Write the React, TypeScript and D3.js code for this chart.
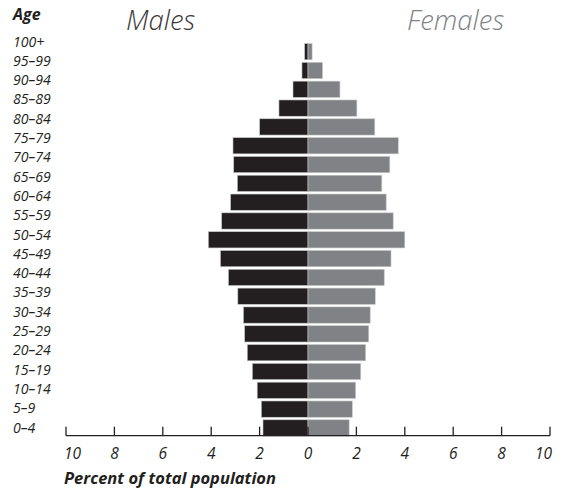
import { useEffect, useRef } from "react";
import * as d3 from "d3";

// age groups, top to bottom
const ageGroups = [
  "100+", "95–99", "90–94", "85–89", "80–84", "75–79", "70–74", "65–69",
  "60–64", "55–59", "50–54", "45–49", "40–44", "35–39", "30–34", "25–29",
  "20–24", "15–19", "10–14", "5–9", "0–4",
];

// percent of total population, same order as ageGroups
const males = [
  0.14, 0.25, 0.62, 1.2, 2.0, 3.1, 3.07, 2.92, 3.2, 3.57, 4.12, 3.62, 3.29,
  2.9, 2.67, 2.62, 2.51, 2.3, 2.1, 1.93, 1.86,
];
const females = [
  0.17, 0.6, 1.32, 2.02, 2.76, 3.73, 3.38, 3.05, 3.23, 3.52, 4.0, 3.43, 3.15,
  2.78, 2.57, 2.51, 2.38, 2.18, 1.97, 1.83, 1.7,
];

const tickValues = [-10, -8, -6, -4, -2, 0, 2, 4, 6, 8, 10];

const width = 561, height = 492;
const maleColor = "#231f20";
const femaleColor = "#808285";
const labelFont = "'Open Sans', 'DejaVu Sans', sans-serif";

function Pyramid() {
  const ref = useRef<SVGSVGElement>(null);

  useEffect(() => {
    const svg = d3.select(ref.current);
    svg.selectAll("*").remove();

    const x = d3.scaleLinear().domain([-10, 10]).range([66, 550]);
    const y = d3.scaleBand().domain(ageGroups).range([42.4, 437.2]).paddingInner(0.135).paddingOuter(0.06);
    // the row labels sit on their own slightly wider spacing
    const yLabel = d3.scalePoint().domain(ageGroups).range([41.5, 427.6]);
    const axisY = 435.7;

    // male bars
    svg.append("g")
      .selectAll("rect")
      .data(ageGroups)
      .join("rect")
      .attr("x", (d, i) => x(-males[i]))
      .attr("y", d => y(d))
      .attr("width", (d, i) => x(0) - x(-males[i]))
      .attr("height", y.bandwidth())
      .attr("fill", maleColor)
      .attr("stroke", "#c8c9cb")
      .attr("stroke-width", 0.6);

    // female bars
    svg.append("g")
      .selectAll("rect")
      .data(ageGroups)
      .join("rect")
      .attr("x", x(0))
      .attr("y", d => y(d))
      .attr("width", (d, i) => x(females[i]) - x(0))
      .attr("height", y.bandwidth())
      .attr("fill", femaleColor)
      .attr("stroke", "#c8c9cb")
      .attr("stroke-width", 0.6);

    // age labels
    svg.append("g")
      .attr("font-family", labelFont)
      .attr("font-style", "italic")
      .attr("font-size", 14.1)
      .attr("fill", maleColor)
      .selectAll("text")
      .data(ageGroups)
      .join("text")
      .attr("x", 13)
      .attr("y", d => yLabel(d) + 5)
      .text(d => d);

    // axis
    const axis = svg.append("g").attr("stroke", maleColor).attr("stroke-width", 1.3);
    axis.append("line")
      .attr("x1", x(-10)).attr("x2", x(10))
      .attr("y1", axisY).attr("y2", axisY);
    axis.selectAll(".tick")
      .data(tickValues)
      .join("line")
      .attr("class", "tick")
      .attr("x1", d => x(d)).attr("x2", d => x(d))
      .attr("y1", axisY - 9).attr("y2", axisY);

    svg.append("g")
      .attr("font-family", labelFont)
      .attr("font-style", "italic")
      .attr("font-size", 15.5)
      .attr("fill", maleColor)
      .selectAll("text")
      .data(tickValues)
      .join("text")
      .attr("x", d => (d === -10 ? x(d) - 2 : d === 10 ? x(d) + 2 : x(d)))
      .attr("y", 458.5)
      .attr("text-anchor", d => (d === -10 ? "start" : d === 10 ? "end" : "middle"))
      .text(d => Math.abs(d));

    // titles
    svg.append("text")
      .attr("x", 13).attr("y", 20)
      .attr("font-family", labelFont)
      .attr("font-style", "italic")
      .attr("font-weight", "bold")
      .attr("font-size", 16)
      .attr("fill", maleColor)
      .text("Age");

    svg.append("text")
      .attr("x", 126).attr("y", 29.5)
      .attr("font-family", labelFont)
      .attr("font-style", "italic")
      .attr("font-weight", 300)
      .attr("font-size", 27.5)
      .attr("fill", "#3a3738")
      .text("Males");

    svg.append("text")
      .attr("x", 407).attr("y", 29.5)
      .attr("font-family", labelFont)
      .attr("font-style", "italic")
      .attr("font-weight", 300)
      .attr("font-size", 27.5)
      .attr("fill", femaleColor)
      .text("Females");

    svg.append("text")
      .attr("x", 64).attr("y", 483.5)
      .attr("font-family", labelFont)
      .attr("font-style", "italic")
      .attr("font-weight", "bold")
      .attr("font-size", 16.5)
      .attr("fill", maleColor)
      .text("Percent of total population");
  }, []);

  return (
    <svg
      ref={ref}
      width={width}
      height={height}
      style={{ position: "absolute", left: 0, top: 0, background: "#fff" }}
    />
  );
}

export default function App() {
  return <Pyramid />;
}
